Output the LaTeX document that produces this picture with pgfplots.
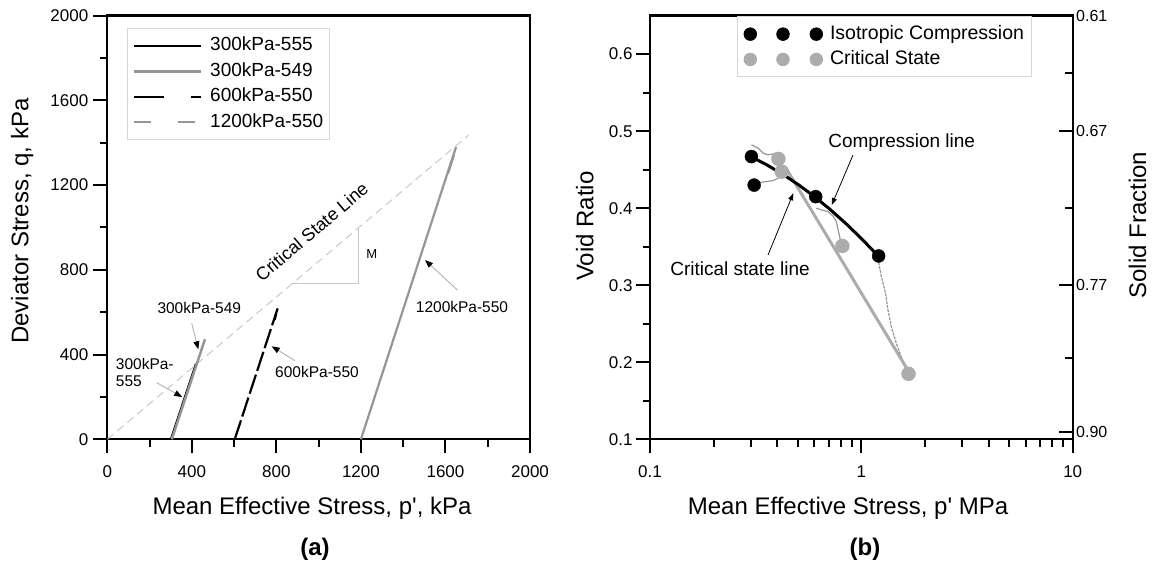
\documentclass[border=0pt]{standalone}
\usepackage{fontspec}
\setmainfont{Liberation Sans}
\usepackage{pgfplots}
\pgfplotsset{compat=1.18}
\usetikzlibrary{arrows.meta}
\definecolor{lgray}{RGB}{150,150,150}
\definecolor{mgray}{RGB}{172,172,172}
\definecolor{cslgray}{RGB}{200,200,200}
\definecolor{anngray}{RGB}{170,170,170}
\definecolor{boxgray}{RGB}{215,215,215}
\newcommand\fs[1]{\fontsize{#1}{#1}\selectfont}
\pgfplotsset{
  common/.style={
    scale only axis,
    axis line style={line width=2.2pt},
    every major tick/.append style={line width=2pt, black},
    every minor tick/.append style={line width=2pt, black},
    major tick length=14pt,
    minor tick length=7.5pt,
    tick align=outside,
    xtick pos=bottom,
    ytick pos=left,
    tick label style={font=\fs{17}},
    xticklabel style={yshift=-9pt},
    /pgf/number format/assume math mode=true,
    /pgf/number format/1000 sep={},
    scaled ticks=false,
    legend cell align=left,
  }
}
\begin{document}
\begin{tikzpicture}
\path[use as bounding box] (0pt,0pt) rectangle (1155pt,562pt);
% ---------------- panel (a)
\begin{axis}[common,
  at={(107.3pt,122.7pt)}, anchor=south west,
  width=422.7pt, height=423.7pt,
  xmin=0,xmax=2000,ymin=0,ymax=2000,
  xtick={0,400,800,1200,1600,2000}, minor xtick={200,600,1000,1400,1800},
  ytick={0,400,800,1200,1600,2000}, minor ytick={200,600,1000,1400,1800},
  yticklabel style={xshift=-1.5pt},
  legend style={at={(0.0473,0.971)}, anchor=north west, draw=boxgray, line width=0.8pt,
    font=\fs{19}, inner xsep=5pt, inner ysep=7.5pt, row sep=5.5pt,
    nodes={inner sep=1pt, text height=14pt, text depth=4pt},
    /tikz/every odd column/.append style={column sep=7pt}},
  legend image code/.code={\draw[#1] (0pt,0pt) -- (67pt,0pt);},
]
\addplot[cslgray, line width=1pt, dash pattern=on 8pt off 5pt, forget plot] coordinates {(0,0)(1710,1436)};
\addplot[cslgray, line width=1pt, forget plot] coordinates {(872,736)(1188,736)(1188,998)};
\addplot[black, line width=2.2pt] coordinates {(301,0)(420,357)};
\addlegendentry{300kPa-555}
\addplot[lgray, line width=2.5pt] coordinates {(305,0)(462,472)};
\addlegendentry{300kPa-549}
\addplot[black, line width=2.2pt, dash pattern=on 20pt off 4pt,
  legend image code/.code={\draw[black, line width=2.2pt, dash pattern=on 30pt off 27pt] (0pt,0pt) -- (67pt,0pt);}]
  coordinates {(603,0)(806,618)(792,565)(800,600)};
\addlegendentry{600kPa-550}
\addplot[lgray, line width=2.2pt,
  legend image code/.code={\draw[lgray, line width=2.2pt, dash pattern=on 17pt off 27pt] (0pt,0pt) -- (67pt,0pt);}]
  coordinates {(1200,0)(1650,1380)(1612,1255)(1640,1340)};
\addlegendentry{1200kPa-550}
\end{axis}
% annotations (a)
\node[font=\fs{15.5}] at (199.3pt,253.7pt) {300kPa-549};
\draw[anngray, line width=0.8pt, -{Triangle[length=8pt,width=6pt,color=black,fill=black]}] (191.7pt,238.7pt) -- (198.3pt,212.7pt);
\node[font=\fs{15.5}, anchor=base west, inner sep=0pt] at (115.7pt,192pt) {300kPa-};
\node[font=\fs{15.5}, anchor=base west, inner sep=0pt] at (115.7pt,175.3pt) {555};
\draw[anngray, line width=0.8pt, -{Triangle[length=8pt,width=6pt,color=black,fill=black]}] (156.7pt,179.3pt) -- (182.2pt,165pt);
\node[font=\fs{15.5}, anchor=west, inner sep=0pt] at (275pt,190.3pt) {600kPa-550};
\draw[anngray, line width=0.8pt, -{Triangle[length=8pt,width=6pt,color=black,fill=black]}] (295pt,201.3pt) -- (271.7pt,215.7pt);
\node[font=\fs{15.5}, anchor=west, inner sep=0pt] at (415.7pt,255.3pt) {1200kPa-550};
\draw[anngray, line width=0.8pt, -{Triangle[length=8pt,width=6pt,color=black,fill=black]}] (457.3pt,272pt) -- (425pt,302pt);
\node[font=\fs{18}, rotate=40.4, anchor=base, inner sep=0pt] at (315.9pt,325.3pt) {Critical State Line};
\node[font=\fs{13}] at (371.7pt,308pt) {M};
% ---------------- panel (b)
\begin{axis}[common,
  at={(650pt,122.7pt)}, anchor=south west,
  width=422.7pt, height=423.7pt,
  xmode=log, xmin=0.1, xmax=10, ymin=0.1, ymax=0.65,
  xtick={0.1,1,10}, xticklabels={0.1,1,10},
  minor xtick={0.2,0.3,0.4,0.5,0.6,0.7,0.8,0.9,2,3,4,5,6,7,8,9},
  ytick={0.1,0.2,0.3,0.4,0.5,0.6}, yticklabels={0.1,0.2,0.3,0.4,0.5,0.6},
  minor ytick={0.15,0.25,0.35,0.45,0.55},
  legend style={at={(0.2051,0.998)}, anchor=north west, draw=boxgray, line width=0.8pt,
    font=\fs{19.5}, inner xsep=6.5pt, inner ysep=7.3pt, row sep=5.3pt,
    nodes={inner sep=1pt, text height=14pt, text depth=4pt},
    /tikz/every odd column/.append style={column sep=6pt}},
]
\addplot[lgray, line width=1.2pt, forget plot] coordinates {(0.302,0.4822)(0.3248,0.4779)(0.3428,0.4714)(0.3621,0.4692)(0.3823,0.4705)(0.4037,0.4670)};
\addplot[lgray, line width=1.2pt, forget plot] coordinates {(0.3076,0.4316)(0.3308,0.4333)(0.3557,0.4346)(0.3823,0.4358)(0.4037,0.4390)(0.4263,0.4432)(0.4421,0.4475)};
\addplot[lgray, line width=1.2pt, forget plot] coordinates {(0.6128,0.4)(0.6471,0.3978)(0.6953,0.3956)(0.7339,0.39)(0.7618,0.3826)(0.7753,0.3727)(0.7898,0.3631)(0.8044,0.3523)};
\addplot[lgray, line width=1.2pt, dash pattern=on 3pt off 1pt, forget plot] coordinates {(1.198,0.3351)(1.243,0.3112)(1.302,0.2896)(1.336,0.2679)(1.386,0.2462)(1.463,0.2247)(1.545,0.2073)(1.632,0.19)};
\addplot[mgray, line width=3pt, forget plot] coordinates {(0.44,0.452)(1.70,0.185)};
\addplot[black, line width=3pt, forget plot] coordinates {(0.3,0.467)(0.3567,0.4563)(0.4243,0.4441)(0.5045,0.4304)(0.6,0.415)(0.7135,0.3981)(0.8485,0.3796)(1.009,0.3596)(1.2,0.338)};
\addplot[only marks, mark=*, mark size=6.5pt, black,
  legend image code/.code={\fill[black] (0pt,0pt) circle (6.3pt); \fill[black] (32.7pt,0pt) circle (6.3pt); \fill[black] (66pt,0pt) circle (6.3pt);}]
  coordinates {(0.302,0.467)(0.311,0.43)(0.608,0.415)(1.207,0.338)};
\addlegendentry{Isotropic Compression}
\addplot[only marks, mark=*, mark size=7pt, mgray, mark options={fill=mgray, draw=mgray},
  legend image code/.code={\fill[mgray] (0pt,0pt) circle (6.3pt); \fill[mgray] (32.7pt,0pt) circle (6.3pt); \fill[mgray] (66pt,0pt) circle (6.3pt);}]
  coordinates {(0.405,0.464)(0.42,0.4475)(0.813,0.351)(1.672,0.185)};
\addlegendentry{Critical State}
\end{axis}
% right axis: solid fraction
\begin{axis}[scale only axis,
  at={(650pt,122.7pt)}, anchor=south west,
  width=422.7pt, height=423.7pt,
  xmode=log, xmin=0.1, xmax=10, ymin=0.1, ymax=0.65,
  axis x line=none, axis y line*=right,
  axis line style={line width=2.2pt},
  tick align=inside, ytick pos=right,
  major tick length=14pt, minor tick length=7.5pt,
  every major tick/.append style={line width=2pt, black},
  every minor tick/.append style={line width=2pt, black},
  ytick={0.65,0.5,0.3,0.11}, yticklabels={0.61,0.67,0.77,0.90},
  minor ytick={0.575,0.4,0.205},
  yticklabel style={font=\fs{16}},
]
\addplot[draw=none] coordinates {(1,0.3)};
\end{axis}
% labels
\node[font=\fs{24}, anchor=base] at (312pt,48pt) {Mean Effective Stress, p\textquotesingle, kPa};
\node[font=\fs{24}, anchor=base] at (848pt,48pt) {Mean Effective Stress, p\textquotesingle\ MPa};
\node[font=\fs{24}\bfseries, anchor=base] at (315pt,7pt) {(a)};
\node[font=\fs{24}\bfseries, anchor=base] at (865pt,7pt) {(b)};
\node[font=\fs{24}, anchor=base, rotate=90] at (28.3pt,341pt) {Deviator Stress, q, kPa};
\node[font=\fs{24}, anchor=base, rotate=90] at (593.3pt,336pt) {Void Ratio};
\node[font=\fs{24}, anchor=base, rotate=90] at (1146pt,337pt) {Solid Fraction};
% annotations (b)
\node[font=\fs{19}] at (901.7pt,419.7pt) {Compression line};
\draw[black, line width=0.8pt, -{Triangle[length=7pt,width=5pt]}] (853pt,407pt) -- (831.7pt,357pt);
\node[font=\fs{19}] at (740pt,293.7pt) {Critical state line};
\draw[black, line width=0.8pt, -{Triangle[length=7pt,width=5pt]}] (768pt,307pt) -- (793.3pt,368.7pt);
\end{tikzpicture}
\end{document}
